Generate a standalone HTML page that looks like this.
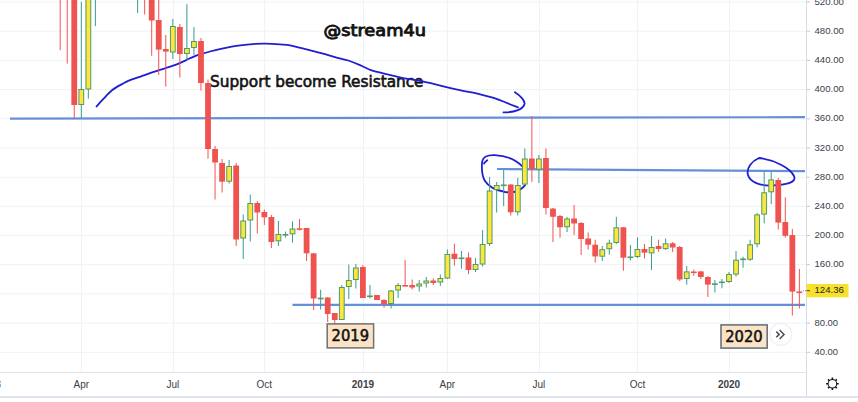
<!DOCTYPE html>
<html><head><meta charset="utf-8"><title>ETH weekly chart</title><style>
html,body{margin:0;padding:0;background:#fff;}
body{width:858px;height:402px;overflow:hidden;position:relative;}
svg{position:absolute;left:0;top:0;display:block;}
.ax{font-family:"Liberation Sans",Arial,sans-serif;font-size:9.2px;fill:#3b3e47;}
.tx{font-family:"Liberation Sans",Arial,sans-serif;font-size:10px;fill:#3b3e47;}
.yr{font-weight:bold;}
.note{font-family:"DejaVu Sans Condensed","DejaVu Sans",sans-serif;font-weight:normal;fill:#131313;stroke:#131313;stroke-width:0.6px;}
.bx{font-family:"DejaVu Sans Condensed","DejaVu Sans",sans-serif;font-weight:normal;font-size:15.5px;fill:#111;stroke:#111;stroke-width:0.5px;}
</style></head><body>
<svg width="858" height="402" viewBox="0 0 858 402">
<rect x="0" y="0" width="858" height="402" fill="#ffffff"/>
<g stroke-width="1">
<line x1="0" y1="2.0" x2="806" y2="2.0" stroke="#f0f2f5"/>
<line x1="0" y1="31.2" x2="806" y2="31.2" stroke="#f0f2f5"/>
<line x1="0" y1="60.4" x2="806" y2="60.4" stroke="#f0f2f5"/>
<line x1="0" y1="89.6" x2="806" y2="89.6" stroke="#f0f2f5"/>
<line x1="0" y1="118.8" x2="806" y2="118.8" stroke="#f0f2f5"/>
<line x1="0" y1="148.0" x2="806" y2="148.0" stroke="#f0f2f5"/>
<line x1="0" y1="177.2" x2="806" y2="177.2" stroke="#f0f2f5"/>
<line x1="0" y1="206.3" x2="806" y2="206.3" stroke="#f0f2f5"/>
<line x1="0" y1="235.5" x2="806" y2="235.5" stroke="#f0f2f5"/>
<line x1="0" y1="264.7" x2="806" y2="264.7" stroke="#f0f2f5"/>
<line x1="0" y1="293.9" x2="806" y2="293.9" stroke="#f0f2f5"/>
<line x1="0" y1="323.1" x2="806" y2="323.1" stroke="#f0f2f5"/>
<line x1="0" y1="352.3" x2="806" y2="352.3" stroke="#f0f2f5"/>
<line x1="81.5" y1="0" x2="81.5" y2="372" stroke="#f0f2f5"/>
<line x1="173.5" y1="0" x2="173.5" y2="372" stroke="#f0f2f5"/>
<line x1="264.5" y1="0" x2="264.5" y2="372" stroke="#f0f2f5"/>
<line x1="363.5" y1="0" x2="363.5" y2="372" stroke="#f0f2f5"/>
<line x1="447.5" y1="0" x2="447.5" y2="372" stroke="#f0f2f5"/>
<line x1="539.5" y1="0" x2="539.5" y2="372" stroke="#f0f2f5"/>
<line x1="637.5" y1="0" x2="637.5" y2="372" stroke="#f0f2f5"/>
<line x1="729.5" y1="0" x2="729.5" y2="372" stroke="#f0f2f5"/>
</g>
<!-- horizontal support lines -->
<g stroke="#6590d8" stroke-width="2.2">
<line x1="10" y1="118.55" x2="805" y2="117.2"/>
<line x1="497" y1="169.0" x2="805" y2="171.1"/>
<line x1="292.5" y1="304.9" x2="805" y2="304.9"/>
</g>
<!-- notes -->
<text class="note" x="323.5" y="36" font-size="16.3" style="stroke-width:0.85px" textLength="102.5" lengthAdjust="spacingAndGlyphs">@stream4u</text>
<text class="note" x="210" y="87" font-size="16" textLength="213.5" lengthAdjust="spacingAndGlyphs">Support become Resistance</text>
<!-- hand drawings -->
<g fill="none" stroke="#1f1fd0" stroke-width="1.8" stroke-linecap="round">
<path d="M96.5 106.5 C97.6 105.3,100.3 102.1,102.9 99.4 C105.5 96.7,108.8 92.9,112.0 90.3 C115.2 87.7,119.5 85.5,122.3 83.9 C125.1 82.3,125.6 81.9,128.8 80.6 C132.0 79.3,137.4 77.6,141.7 76.1 C146.0 74.6,150.8 72.9,154.7 71.6 C158.6 70.3,161.1 69.6,165.0 68.3 C168.9 67.0,173.8 65.5,178.0 63.8 C182.2 62.1,186.8 59.7,190.0 58.3 C193.2 56.9,194.2 56.3,197.5 55.2 C200.8 54.1,206.1 52.6,210.0 51.5 C213.9 50.4,216.1 49.8,220.8 48.8 C225.5 47.8,232.5 46.4,238.3 45.6 C244.1 44.8,251.3 44.1,255.8 43.8 C260.3 43.5,261.1 43.5,265.1 43.6 C269.1 43.7,275.9 44.1,280.0 44.4 C284.1 44.7,286.4 44.7,290.0 45.3 C293.6 45.9,297.8 47.2,301.7 48.2 C305.6 49.2,309.4 50.2,313.3 51.2 C317.2 52.2,321.1 53.0,325.0 54.1 C328.9 55.2,332.7 56.5,336.6 57.6 C340.5 58.7,344.4 59.2,348.3 60.5 C352.2 61.8,356.1 63.4,360.0 65.1 C363.9 66.8,367.7 69.0,371.6 70.4 C375.5 71.8,378.5 72.2,383.2 73.3 C387.9 74.4,393.3 75.9,400.0 77.3 C406.7 78.7,416.3 80.2,423.5 81.7 C430.7 83.2,437.1 84.8,443.3 86.3 C449.5 87.8,455.0 89.1,460.8 90.4 C466.6 91.7,472.5 92.5,478.3 93.9 C484.1 95.3,491.0 97.0,495.8 98.6 C500.6 100.1,503.7 101.8,507.4 103.2 C511.1 104.7,516.1 106.6,517.9 107.3"/>
<path d="M514.9 92.3 C 521 96, 525 101, 524.5 104 C 523.5 109, 515 112.5, 503.5 112.4"/>
<path d="M522.6 166.7 C 516 159.5, 505 155.6, 494.7 155.1 C 488 154.9, 483 157, 482.2 161.3 C 481.5 168, 482 176, 485 181 C 489 187.5, 497 190.5, 505 192 C 512 193, 519 192.5, 525 185.3"/>
<path d="M487.3 160.2 C 486 161, 484.8 162, 484 163.5"/>
<path d="M759 158 C 775 160, 790 168, 794 176 C 797 183, 785 185, 772 185.5 C 760 186, 750 182, 748 175 C 746 168, 752 161, 759 158 Z"/>
</g>
<!-- candles -->
<g stroke-width="1">
<line x1="60.18" y1="-30.0" x2="60.18" y2="50.0" stroke="#ef5350"/>
<rect x="57.28" y="-30.0" width="5.8" height="10.00" fill="#ef5350"/>
<line x1="67.22" y1="-30.0" x2="67.22" y2="63.5" stroke="#ef5350"/>
<rect x="64.32" y="-30.0" width="5.8" height="10.00" fill="#ef5350"/>
<line x1="74.26" y1="-10.0" x2="74.26" y2="119.0" stroke="#ef5350"/>
<rect x="71.36" y="-10.0" width="5.8" height="115.00" fill="#ef5350"/>
<line x1="81.30" y1="2.0" x2="81.30" y2="118.0" stroke="#3a9a94"/>
<rect x="78.90" y="89.5" width="4.8" height="15.00" fill="#fbe73c" stroke="#4f9a6a"/>
<line x1="88.34" y1="-10.0" x2="88.34" y2="98.7" stroke="#3a9a94"/>
<rect x="85.94" y="-9.5" width="4.8" height="98.50" fill="#fbe73c" stroke="#4f9a6a"/>
<line x1="95.38" y1="-30.0" x2="95.38" y2="26.0" stroke="#3a9a94"/>
<rect x="92.98" y="-29.5" width="4.8" height="9.00" fill="#fbe73c" stroke="#4f9a6a"/>
<line x1="137.62" y1="-30.0" x2="137.62" y2="13.0" stroke="#3a9a94"/>
<rect x="135.22" y="-29.5" width="4.8" height="9.00" fill="#fbe73c" stroke="#4f9a6a"/>
<line x1="144.66" y1="-30.0" x2="144.66" y2="14.5" stroke="#ef5350"/>
<rect x="141.76" y="-30.0" width="5.8" height="10.00" fill="#ef5350"/>
<line x1="151.70" y1="-10.0" x2="151.70" y2="55.8" stroke="#ef5350"/>
<rect x="148.80" y="-10.0" width="5.8" height="30.50" fill="#ef5350"/>
<line x1="158.74" y1="-10.0" x2="158.74" y2="75.0" stroke="#ef5350"/>
<rect x="155.84" y="20.0" width="5.8" height="29.60" fill="#ef5350"/>
<line x1="165.78" y1="35.0" x2="165.78" y2="86.6" stroke="#ef5350"/>
<rect x="162.88" y="49.0" width="5.8" height="2.60" fill="#ef5350"/>
<line x1="172.82" y1="19.0" x2="172.82" y2="59.0" stroke="#3a9a94"/>
<rect x="170.42" y="26.5" width="4.8" height="25.50" fill="#fbe73c" stroke="#4f9a6a"/>
<line x1="179.86" y1="24.0" x2="179.86" y2="77.5" stroke="#ef5350"/>
<rect x="176.96" y="27.0" width="5.8" height="27.00" fill="#ef5350"/>
<line x1="186.90" y1="4.0" x2="186.90" y2="60.0" stroke="#3a9a94"/>
<rect x="184.50" y="48.5" width="4.8" height="5.00" fill="#fbe73c" stroke="#4f9a6a"/>
<line x1="193.94" y1="27.0" x2="193.94" y2="55.0" stroke="#3a9a94"/>
<rect x="191.54" y="41.5" width="4.8" height="6.00" fill="#fbe73c" stroke="#4f9a6a"/>
<line x1="200.98" y1="38.0" x2="200.98" y2="90.5" stroke="#ef5350"/>
<rect x="198.08" y="41.0" width="5.8" height="42.00" fill="#ef5350"/>
<line x1="208.02" y1="79.5" x2="208.02" y2="158.7" stroke="#ef5350"/>
<rect x="205.12" y="83.0" width="5.8" height="66.00" fill="#ef5350"/>
<line x1="215.06" y1="146.0" x2="215.06" y2="199.5" stroke="#ef5350"/>
<rect x="212.16" y="149.0" width="5.8" height="13.50" fill="#ef5350"/>
<line x1="222.10" y1="159.0" x2="222.10" y2="192.5" stroke="#ef5350"/>
<rect x="219.20" y="163.0" width="5.8" height="18.70" fill="#ef5350"/>
<line x1="229.14" y1="160.0" x2="229.14" y2="183.7" stroke="#3a9a94"/>
<rect x="226.74" y="166.5" width="4.8" height="14.70" fill="#fbe73c" stroke="#4f9a6a"/>
<line x1="236.18" y1="163.0" x2="236.18" y2="246.0" stroke="#ef5350"/>
<rect x="233.28" y="165.5" width="5.8" height="74.00" fill="#ef5350"/>
<line x1="243.22" y1="214.5" x2="243.22" y2="259.0" stroke="#3a9a94"/>
<rect x="240.82" y="221.0" width="4.8" height="17.00" fill="#fbe73c" stroke="#4f9a6a"/>
<line x1="250.26" y1="194.5" x2="250.26" y2="241.5" stroke="#3a9a94"/>
<rect x="247.86" y="203.5" width="4.8" height="16.50" fill="#fbe73c" stroke="#4f9a6a"/>
<line x1="257.30" y1="201.0" x2="257.30" y2="233.5" stroke="#ef5350"/>
<rect x="254.40" y="203.0" width="5.8" height="9.50" fill="#ef5350"/>
<line x1="264.34" y1="209.5" x2="264.34" y2="225.0" stroke="#ef5350"/>
<rect x="261.44" y="212.0" width="5.8" height="5.30" fill="#ef5350"/>
<line x1="271.38" y1="215.0" x2="271.38" y2="248.0" stroke="#ef5350"/>
<rect x="268.48" y="217.0" width="5.8" height="25.00" fill="#ef5350"/>
<line x1="278.42" y1="221.0" x2="278.42" y2="246.0" stroke="#3a9a94"/>
<rect x="276.02" y="234.5" width="4.8" height="6.30" fill="#fbe73c" stroke="#4f9a6a"/>
<line x1="285.46" y1="231.5" x2="285.46" y2="237.5" stroke="#3a9a94"/>
<rect x="283.06" y="234.5" width="4.8" height="0.60" fill="#fbe73c" stroke="#4f9a6a"/>
<line x1="292.50" y1="221.5" x2="292.50" y2="242.5" stroke="#3a9a94"/>
<rect x="290.10" y="229.0" width="4.8" height="4.80" fill="#fbe73c" stroke="#4f9a6a"/>
<line x1="299.54" y1="219.0" x2="299.54" y2="230.5" stroke="#ef5350"/>
<rect x="296.64" y="228.3" width="5.8" height="1.60" fill="#ef5350"/>
<line x1="306.58" y1="228.0" x2="306.58" y2="261.0" stroke="#ef5350"/>
<rect x="303.68" y="228.0" width="5.8" height="25.30" fill="#ef5350"/>
<line x1="313.62" y1="253.0" x2="313.62" y2="310.0" stroke="#ef5350"/>
<rect x="310.72" y="253.3" width="5.8" height="45.20" fill="#ef5350"/>
<line x1="320.66" y1="289.8" x2="320.66" y2="309.5" stroke="#3a9a94"/>
<rect x="318.26" y="298.2" width="4.8" height="0.60" fill="#fbe73c" stroke="#4f9a6a"/>
<line x1="327.70" y1="297.0" x2="327.70" y2="322.0" stroke="#ef5350"/>
<rect x="324.80" y="297.5" width="5.8" height="16.50" fill="#ef5350"/>
<line x1="334.74" y1="313.0" x2="334.74" y2="323.5" stroke="#ef5350"/>
<rect x="331.84" y="313.0" width="5.8" height="7.00" fill="#ef5350"/>
<line x1="341.78" y1="285.0" x2="341.78" y2="320.0" stroke="#3a9a94"/>
<rect x="339.38" y="287.5" width="4.8" height="32.00" fill="#fbe73c" stroke="#4f9a6a"/>
<line x1="348.82" y1="264.5" x2="348.82" y2="299.0" stroke="#3a9a94"/>
<rect x="346.42" y="280.5" width="4.8" height="6.00" fill="#fbe73c" stroke="#4f9a6a"/>
<line x1="355.86" y1="264.0" x2="355.86" y2="288.5" stroke="#3a9a94"/>
<rect x="353.46" y="268.0" width="4.8" height="11.50" fill="#fbe73c" stroke="#4f9a6a"/>
<line x1="362.90" y1="265.0" x2="362.90" y2="298.0" stroke="#ef5350"/>
<rect x="360.00" y="267.0" width="5.8" height="31.00" fill="#ef5350"/>
<line x1="369.94" y1="285.0" x2="369.94" y2="298.5" stroke="#3a9a94"/>
<rect x="367.54" y="296.0" width="4.8" height="0.60" fill="#fbe73c" stroke="#4f9a6a"/>
<line x1="376.98" y1="295.0" x2="376.98" y2="300.0" stroke="#ef5350"/>
<rect x="374.08" y="295.0" width="5.8" height="5.00" fill="#ef5350"/>
<line x1="384.02" y1="299.0" x2="384.02" y2="307.7" stroke="#ef5350"/>
<rect x="381.12" y="300.0" width="5.8" height="4.00" fill="#ef5350"/>
<line x1="391.06" y1="290.0" x2="391.06" y2="308.5" stroke="#3a9a94"/>
<rect x="388.66" y="291.0" width="4.8" height="12.50" fill="#fbe73c" stroke="#4f9a6a"/>
<line x1="398.10" y1="283.0" x2="398.10" y2="298.0" stroke="#3a9a94"/>
<rect x="395.70" y="285.5" width="4.8" height="4.50" fill="#fbe73c" stroke="#4f9a6a"/>
<line x1="405.14" y1="260.0" x2="405.14" y2="286.0" stroke="#ef5350"/>
<rect x="402.24" y="285.0" width="5.8" height="1.60" fill="#ef5350"/>
<line x1="412.18" y1="279.5" x2="412.18" y2="289.5" stroke="#ef5350"/>
<rect x="409.28" y="285.0" width="5.8" height="2.50" fill="#ef5350"/>
<line x1="419.22" y1="280.0" x2="419.22" y2="291.5" stroke="#3a9a94"/>
<rect x="416.82" y="284.0" width="4.8" height="2.00" fill="#fbe73c" stroke="#4f9a6a"/>
<line x1="426.26" y1="277.0" x2="426.26" y2="287.5" stroke="#3a9a94"/>
<rect x="423.86" y="281.0" width="4.8" height="2.00" fill="#fbe73c" stroke="#4f9a6a"/>
<line x1="433.30" y1="278.5" x2="433.30" y2="285.0" stroke="#ef5350"/>
<rect x="430.40" y="280.5" width="5.8" height="2.50" fill="#ef5350"/>
<line x1="440.34" y1="274.5" x2="440.34" y2="286.0" stroke="#3a9a94"/>
<rect x="437.94" y="278.5" width="4.8" height="3.50" fill="#fbe73c" stroke="#4f9a6a"/>
<line x1="447.38" y1="249.5" x2="447.38" y2="279.0" stroke="#3a9a94"/>
<rect x="444.98" y="254.5" width="4.8" height="23.50" fill="#fbe73c" stroke="#4f9a6a"/>
<line x1="454.42" y1="243.7" x2="454.42" y2="265.5" stroke="#ef5350"/>
<rect x="451.52" y="253.7" width="5.8" height="5.30" fill="#ef5350"/>
<line x1="461.46" y1="251.0" x2="461.46" y2="268.7" stroke="#3a9a94"/>
<rect x="459.06" y="258.0" width="4.8" height="0.60" fill="#fbe73c" stroke="#4f9a6a"/>
<line x1="468.50" y1="252.5" x2="468.50" y2="274.0" stroke="#ef5350"/>
<rect x="465.60" y="257.5" width="5.8" height="12.50" fill="#ef5350"/>
<line x1="475.54" y1="258.0" x2="475.54" y2="272.0" stroke="#3a9a94"/>
<rect x="473.14" y="264.5" width="4.8" height="5.00" fill="#fbe73c" stroke="#4f9a6a"/>
<line x1="482.58" y1="230.0" x2="482.58" y2="266.5" stroke="#3a9a94"/>
<rect x="480.18" y="244.5" width="4.8" height="19.50" fill="#fbe73c" stroke="#4f9a6a"/>
<line x1="489.62" y1="177.0" x2="489.62" y2="246.0" stroke="#3a9a94"/>
<rect x="487.22" y="191.0" width="4.8" height="52.50" fill="#fbe73c" stroke="#4f9a6a"/>
<line x1="496.66" y1="182.0" x2="496.66" y2="212.5" stroke="#3a9a94"/>
<rect x="494.26" y="185.5" width="4.8" height="4.00" fill="#fbe73c" stroke="#4f9a6a"/>
<line x1="503.70" y1="170.0" x2="503.70" y2="206.0" stroke="#3a9a94"/>
<rect x="501.30" y="185.0" width="4.8" height="0.60" fill="#fbe73c" stroke="#4f9a6a"/>
<line x1="510.74" y1="184.0" x2="510.74" y2="215.5" stroke="#ef5350"/>
<rect x="507.84" y="184.5" width="5.8" height="27.80" fill="#ef5350"/>
<line x1="517.78" y1="177.7" x2="517.78" y2="215.5" stroke="#3a9a94"/>
<rect x="515.38" y="185.5" width="4.8" height="26.30" fill="#fbe73c" stroke="#4f9a6a"/>
<line x1="524.82" y1="148.5" x2="524.82" y2="185.0" stroke="#3a9a94"/>
<rect x="522.42" y="159.0" width="4.8" height="25.10" fill="#fbe73c" stroke="#4f9a6a"/>
<line x1="531.86" y1="116.0" x2="531.86" y2="182.0" stroke="#ef5350"/>
<rect x="528.96" y="158.5" width="5.8" height="10.50" fill="#ef5350"/>
<line x1="538.90" y1="155.0" x2="538.90" y2="183.0" stroke="#3a9a94"/>
<rect x="536.50" y="159.0" width="4.8" height="10.20" fill="#fbe73c" stroke="#4f9a6a"/>
<line x1="545.94" y1="148.5" x2="545.94" y2="214.5" stroke="#ef5350"/>
<rect x="543.04" y="158.0" width="5.8" height="50.00" fill="#ef5350"/>
<line x1="552.98" y1="208.0" x2="552.98" y2="242.0" stroke="#ef5350"/>
<rect x="550.08" y="208.6" width="5.8" height="8.20" fill="#ef5350"/>
<line x1="560.02" y1="215.0" x2="560.02" y2="237.7" stroke="#ef5350"/>
<rect x="557.12" y="216.0" width="5.8" height="11.30" fill="#ef5350"/>
<line x1="567.06" y1="217.0" x2="567.06" y2="232.0" stroke="#3a9a94"/>
<rect x="564.66" y="219.0" width="4.8" height="7.80" fill="#fbe73c" stroke="#4f9a6a"/>
<line x1="574.10" y1="205.0" x2="574.10" y2="235.0" stroke="#ef5350"/>
<rect x="571.20" y="218.5" width="5.8" height="5.00" fill="#ef5350"/>
<line x1="581.14" y1="222.0" x2="581.14" y2="255.0" stroke="#ef5350"/>
<rect x="578.24" y="223.0" width="5.8" height="16.00" fill="#ef5350"/>
<line x1="588.18" y1="232.3" x2="588.18" y2="249.7" stroke="#ef5350"/>
<rect x="585.28" y="238.5" width="5.8" height="6.20" fill="#ef5350"/>
<line x1="595.22" y1="239.7" x2="595.22" y2="262.6" stroke="#ef5350"/>
<rect x="592.32" y="244.7" width="5.8" height="11.70" fill="#ef5350"/>
<line x1="602.26" y1="246.0" x2="602.26" y2="261.0" stroke="#3a9a94"/>
<rect x="599.86" y="249.7" width="4.8" height="6.50" fill="#fbe73c" stroke="#4f9a6a"/>
<line x1="609.30" y1="239.7" x2="609.30" y2="254.7" stroke="#3a9a94"/>
<rect x="606.90" y="243.2" width="4.8" height="5.50" fill="#fbe73c" stroke="#4f9a6a"/>
<line x1="616.34" y1="216.9" x2="616.34" y2="244.0" stroke="#3a9a94"/>
<rect x="613.94" y="227.8" width="4.8" height="14.70" fill="#fbe73c" stroke="#4f9a6a"/>
<line x1="623.38" y1="227.0" x2="623.38" y2="270.8" stroke="#ef5350"/>
<rect x="620.48" y="227.3" width="5.8" height="30.40" fill="#ef5350"/>
<line x1="630.42" y1="245.0" x2="630.42" y2="260.4" stroke="#3a9a94"/>
<rect x="628.02" y="257.0" width="4.8" height="0.60" fill="#fbe73c" stroke="#4f9a6a"/>
<line x1="637.46" y1="237.3" x2="637.46" y2="258.0" stroke="#3a9a94"/>
<rect x="635.06" y="249.5" width="4.8" height="7.00" fill="#fbe73c" stroke="#4f9a6a"/>
<line x1="644.50" y1="244.0" x2="644.50" y2="258.4" stroke="#ef5350"/>
<rect x="641.60" y="249.0" width="5.8" height="3.70" fill="#ef5350"/>
<line x1="651.54" y1="236.0" x2="651.54" y2="270.0" stroke="#3a9a94"/>
<rect x="649.14" y="247.5" width="4.8" height="5.40" fill="#fbe73c" stroke="#4f9a6a"/>
<line x1="658.58" y1="239.7" x2="658.58" y2="251.7" stroke="#ef5350"/>
<rect x="655.68" y="246.0" width="5.8" height="3.00" fill="#ef5350"/>
<line x1="665.62" y1="238.5" x2="665.62" y2="250.0" stroke="#3a9a94"/>
<rect x="663.22" y="243.8" width="4.8" height="4.80" fill="#fbe73c" stroke="#4f9a6a"/>
<line x1="672.66" y1="242.0" x2="672.66" y2="252.0" stroke="#ef5350"/>
<rect x="669.76" y="243.3" width="5.8" height="4.20" fill="#ef5350"/>
<line x1="679.70" y1="246.0" x2="679.70" y2="281.0" stroke="#ef5350"/>
<rect x="676.80" y="247.0" width="5.8" height="32.50" fill="#ef5350"/>
<line x1="686.74" y1="266.0" x2="686.74" y2="284.6" stroke="#3a9a94"/>
<rect x="684.34" y="271.9" width="4.8" height="6.60" fill="#fbe73c" stroke="#4f9a6a"/>
<line x1="693.78" y1="269.6" x2="693.78" y2="275.8" stroke="#ef5350"/>
<rect x="690.88" y="271.5" width="5.8" height="1.60" fill="#ef5350"/>
<line x1="700.82" y1="271.0" x2="700.82" y2="279.0" stroke="#ef5350"/>
<rect x="697.92" y="271.4" width="5.8" height="5.60" fill="#ef5350"/>
<line x1="707.86" y1="276.0" x2="707.86" y2="297.0" stroke="#ef5350"/>
<rect x="704.96" y="277.0" width="5.8" height="7.60" fill="#ef5350"/>
<line x1="714.90" y1="280.0" x2="714.90" y2="292.5" stroke="#3a9a94"/>
<rect x="712.50" y="283.8" width="4.8" height="0.60" fill="#fbe73c" stroke="#4f9a6a"/>
<line x1="721.94" y1="279.0" x2="721.94" y2="288.3" stroke="#3a9a94"/>
<rect x="719.54" y="282.0" width="4.8" height="0.60" fill="#fbe73c" stroke="#4f9a6a"/>
<line x1="728.98" y1="272.0" x2="728.98" y2="283.0" stroke="#3a9a94"/>
<rect x="726.58" y="274.5" width="4.8" height="7.00" fill="#fbe73c" stroke="#4f9a6a"/>
<line x1="736.02" y1="251.0" x2="736.02" y2="276.6" stroke="#3a9a94"/>
<rect x="733.62" y="260.2" width="4.8" height="13.90" fill="#fbe73c" stroke="#4f9a6a"/>
<line x1="743.06" y1="256.7" x2="743.06" y2="267.7" stroke="#3a9a94"/>
<rect x="740.66" y="259.0" width="4.8" height="0.60" fill="#fbe73c" stroke="#4f9a6a"/>
<line x1="750.10" y1="239.8" x2="750.10" y2="261.0" stroke="#3a9a94"/>
<rect x="747.70" y="244.8" width="4.8" height="14.40" fill="#fbe73c" stroke="#4f9a6a"/>
<line x1="757.14" y1="213.0" x2="757.14" y2="247.3" stroke="#3a9a94"/>
<rect x="754.74" y="214.9" width="4.8" height="28.90" fill="#fbe73c" stroke="#4f9a6a"/>
<line x1="764.18" y1="171.0" x2="764.18" y2="223.4" stroke="#3a9a94"/>
<rect x="761.78" y="192.8" width="4.8" height="21.30" fill="#fbe73c" stroke="#4f9a6a"/>
<line x1="771.22" y1="172.0" x2="771.22" y2="204.2" stroke="#3a9a94"/>
<rect x="768.82" y="179.9" width="4.8" height="11.90" fill="#fbe73c" stroke="#4f9a6a"/>
<line x1="778.26" y1="177.9" x2="778.26" y2="229.6" stroke="#ef5350"/>
<rect x="775.36" y="180.0" width="5.8" height="42.60" fill="#ef5350"/>
<line x1="785.30" y1="197.3" x2="785.30" y2="237.6" stroke="#ef5350"/>
<rect x="782.40" y="222.0" width="5.8" height="13.80" fill="#ef5350"/>
<line x1="792.34" y1="229.0" x2="792.34" y2="315.5" stroke="#ef5350"/>
<rect x="789.44" y="235.0" width="5.8" height="56.60" fill="#ef5350"/>
<line x1="799.38" y1="269.0" x2="799.38" y2="308.5" stroke="#ef5350"/>
<rect x="796.48" y="291.5" width="5.8" height="1.60" fill="#ef5350"/>
</g>
<!-- year boxes -->
<rect x="327.2" y="323.9" width="46.4" height="24" fill="#fde3c6" stroke="#707070" stroke-width="1.5"/>
<text class="bx" x="331.6" y="341.2" textLength="37.4" lengthAdjust="spacingAndGlyphs">2019</text>
<rect x="721" y="324.9" width="46.2" height="23.2" fill="#fde3c6" stroke="#5f6b7c" stroke-width="1.5"/>
<text class="bx" x="725.2" y="341.9" textLength="37.4" lengthAdjust="spacingAndGlyphs">2020</text>
<!-- scroll button -->
<circle cx="780.8" cy="334.3" r="11" fill="#ffffff" stroke="#eef0f3" stroke-width="1.2"/>
<path d="M776.3 331.6 L779.2 334.4 L776.3 337.2 M779.6 329.9 L784 334.4 L779.6 338.9" fill="none" stroke="#4a4d57" stroke-width="1.5"/>
<!-- axes -->
<line x1="0" y1="372.5" x2="806" y2="372.5" stroke="#e0e3eb" stroke-width="1"/>
<line x1="806.5" y1="0" x2="806.5" y2="397" stroke="#d9dbe0" stroke-width="1"/>
<rect x="0" y="396" width="858" height="2" fill="#e0e3eb"/>
<line x1="806.5" y1="2.0" x2="810" y2="2.0" stroke="#c8cad0"/>
<text class="ax" x="814.5" y="4.5" textLength="29.4" lengthAdjust="spacingAndGlyphs">520.00</text>
<line x1="806.5" y1="31.2" x2="810" y2="31.2" stroke="#c8cad0"/>
<text class="ax" x="814.5" y="33.7" textLength="29.4" lengthAdjust="spacingAndGlyphs">480.00</text>
<line x1="806.5" y1="60.4" x2="810" y2="60.4" stroke="#c8cad0"/>
<text class="ax" x="814.5" y="62.9" textLength="29.4" lengthAdjust="spacingAndGlyphs">440.00</text>
<line x1="806.5" y1="89.6" x2="810" y2="89.6" stroke="#c8cad0"/>
<text class="ax" x="814.5" y="92.1" textLength="29.4" lengthAdjust="spacingAndGlyphs">400.00</text>
<line x1="806.5" y1="118.8" x2="810" y2="118.8" stroke="#c8cad0"/>
<text class="ax" x="814.5" y="121.3" textLength="29.4" lengthAdjust="spacingAndGlyphs">360.00</text>
<line x1="806.5" y1="148.0" x2="810" y2="148.0" stroke="#c8cad0"/>
<text class="ax" x="814.5" y="150.5" textLength="29.4" lengthAdjust="spacingAndGlyphs">320.00</text>
<line x1="806.5" y1="177.2" x2="810" y2="177.2" stroke="#c8cad0"/>
<text class="ax" x="814.5" y="179.7" textLength="29.4" lengthAdjust="spacingAndGlyphs">280.00</text>
<line x1="806.5" y1="206.3" x2="810" y2="206.3" stroke="#c8cad0"/>
<text class="ax" x="814.5" y="208.8" textLength="29.4" lengthAdjust="spacingAndGlyphs">240.00</text>
<line x1="806.5" y1="235.5" x2="810" y2="235.5" stroke="#c8cad0"/>
<text class="ax" x="814.5" y="238.0" textLength="29.4" lengthAdjust="spacingAndGlyphs">200.00</text>
<line x1="806.5" y1="264.7" x2="810" y2="264.7" stroke="#c8cad0"/>
<text class="ax" x="814.5" y="267.2" textLength="29.4" lengthAdjust="spacingAndGlyphs">160.00</text>
<line x1="806.5" y1="323.1" x2="810" y2="323.1" stroke="#c8cad0"/>
<text class="ax" x="814.5" y="325.6" textLength="23.6" lengthAdjust="spacingAndGlyphs">80.00</text>
<line x1="806.5" y1="352.3" x2="810" y2="352.3" stroke="#c8cad0"/>
<text class="ax" x="814.5" y="354.8" textLength="23.6" lengthAdjust="spacingAndGlyphs">40.00</text>
<text class="tx" x="81.3" y="387.5" text-anchor="middle">Apr</text>
<text class="tx" x="172.8" y="387.5" text-anchor="middle">Jul</text>
<text class="tx" x="264.3" y="387.5" text-anchor="middle">Oct</text>
<text class="tx yr" x="362.9" y="387.5" text-anchor="middle">2019</text>
<text class="tx" x="447.4" y="387.5" text-anchor="middle">Apr</text>
<text class="tx" x="538.9" y="387.5" text-anchor="middle">Jul</text>
<text class="tx" x="637.5" y="387.5" text-anchor="middle">Oct</text>
<text class="tx yr" x="729.0" y="387.5" text-anchor="middle">2020</text>
<text class="tx yr" x="-10.2" y="387.5" text-anchor="middle">2018</text>
<!-- last price -->
<line x1="803" y1="290.7" x2="806" y2="290.7" stroke="#6590d8" stroke-width="1" stroke-dasharray="1 1"/>
<rect x="806.5" y="284" width="42" height="13.3" fill="#f7e12c"/>
<line x1="806.5" y1="290.7" x2="810" y2="290.7" stroke="#3b3e47" stroke-width="1"/>
<text class="ax" x="814.5" y="292.9" style="fill:#222" textLength="29.4" lengthAdjust="spacingAndGlyphs">124.36</text>
<!-- settings gear -->
<g transform="translate(832.4,383.8)" fill="none" stroke="#131722" stroke-width="1.2">
<circle r="4.3" stroke-width="1.05"/>
<path d="M0 -4.3 V-6.3 M0 4.3 V6.3 M-4.3 0 H-6.3 M4.3 0 H6.3 M3 -3 L4.4 -4.4 M-3 -3 L-4.4 -4.4 M3 3 L4.4 4.4 M-3 3 L-4.4 4.4" stroke-width="1.6"/>
</g>
</svg>
</body></html>
